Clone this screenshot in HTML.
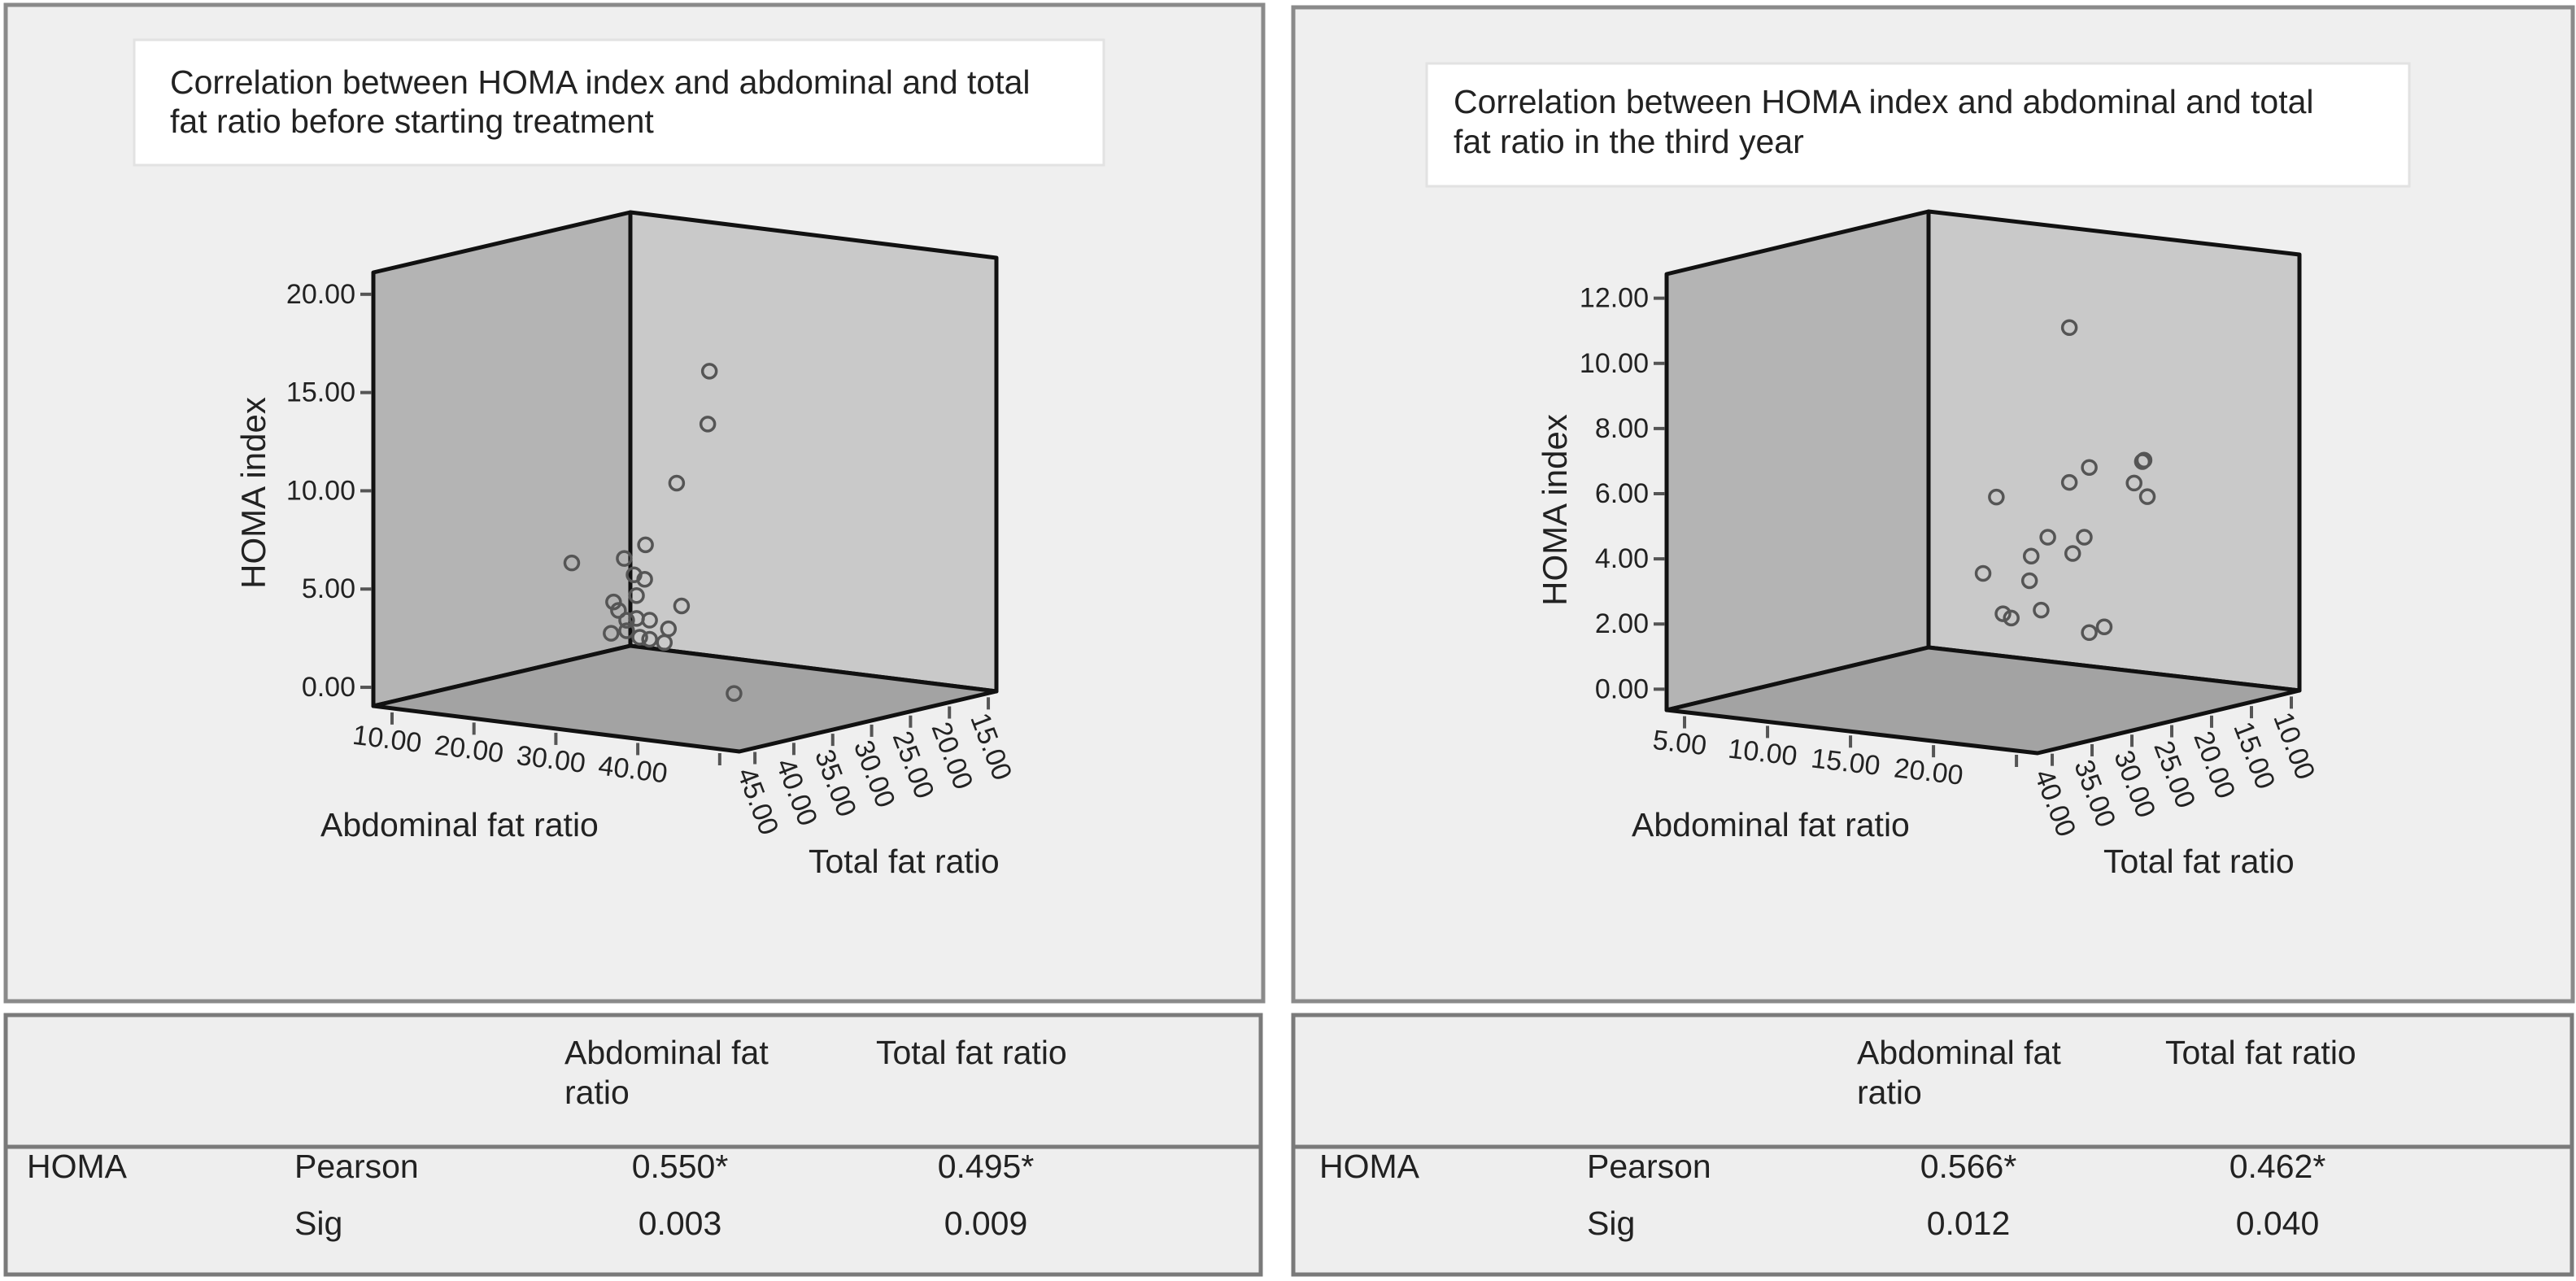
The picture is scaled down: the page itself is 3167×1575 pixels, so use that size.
<!DOCTYPE html>
<html><head><meta charset="utf-8"><style>
html,body{margin:0;padding:0;background:#fff;}
svg{display:block;font-family:"Liberation Sans",Arial,sans-serif;}
</style></head><body>
<svg id="root" width="3167" height="1575" viewBox="0 0 3167 1575" xmlns="http://www.w3.org/2000/svg">
<rect x="0" y="0" width="3167" height="1575" fill="#ffffff"/>
<!-- left panel -->
<rect x="7" y="6" width="1546" height="1225" fill="#efefef" stroke="#8a8a8a" stroke-width="5"/>
<rect x="1590" y="9" width="1573" height="1222" fill="#efefef" stroke="#8a8a8a" stroke-width="5"/>
<rect x="165" y="49" width="1192" height="154" fill="#ffffff" stroke="#e2e2e2" stroke-width="3"/>
<text x="209" y="115" font-size="41" fill="#222">Correlation between HOMA index and abdominal and total</text>
<text x="209" y="163" font-size="41" fill="#222">fat ratio before starting treatment</text>
<rect x="1754" y="78" width="1208" height="151" fill="#ffffff" stroke="#e2e2e2" stroke-width="3"/>
<text x="1787" y="139" font-size="41" fill="#222">Correlation between HOMA index and abdominal and total</text>
<text x="1787" y="188" font-size="41" fill="#222">fat ratio in the third year</text>
<g id="leftChart"></g>
<g id="rightChart"></g>
<text x="394" y="1028" font-size="41" fill="#222">Abdominal fat ratio</text>
<text x="994" y="1073" font-size="41" fill="#222">Total fat ratio</text>
<text transform="translate(326,606) rotate(-90)" text-anchor="middle" font-size="42" fill="#222">HOMA index</text>
<text x="2006" y="1028" font-size="41" fill="#222">Abdominal fat ratio</text>
<text x="2586" y="1073" font-size="41" fill="#222">Total fat ratio</text>
<text transform="translate(1926,627) rotate(-90)" text-anchor="middle" font-size="42" fill="#222">HOMA index</text>
<!-- tables -->
<g>
<rect x="7" y="1248" width="1543" height="319" fill="#eeeeee" stroke="#7a7a7a" stroke-width="5"/>
<line x1="7" y1="1410" x2="1550" y2="1410" stroke="#7a7a7a" stroke-width="5"/>
<text x="694" y="1308" font-size="41" fill="#222">Abdominal fat</text>
<text x="694" y="1357" font-size="41" fill="#222">ratio</text>
<text x="1077" y="1308" font-size="41" fill="#222">Total fat ratio</text>
<text x="33" y="1448" font-size="41" fill="#222">HOMA</text>
<text x="362" y="1448" font-size="41" fill="#222">Pearson</text>
<text x="836" y="1448" font-size="41" fill="#222" text-anchor="middle">0.550*</text>
<text x="1212" y="1448" font-size="41" fill="#222" text-anchor="middle">0.495*</text>
<text x="362" y="1518" font-size="41" fill="#222">Sig</text>
<text x="836" y="1518" font-size="41" fill="#222" text-anchor="middle">0.003</text>
<text x="1212" y="1518" font-size="41" fill="#222" text-anchor="middle">0.009</text>
</g>
<g>
<rect x="1590" y="1248" width="1572" height="319" fill="#eeeeee" stroke="#7a7a7a" stroke-width="5"/>
<line x1="1590" y1="1410" x2="3162" y2="1410" stroke="#7a7a7a" stroke-width="5"/>
<text x="2283" y="1308" font-size="41" fill="#222">Abdominal fat</text>
<text x="2283" y="1357" font-size="41" fill="#222">ratio</text>
<text x="2662" y="1308" font-size="41" fill="#222">Total fat ratio</text>
<text x="1622" y="1448" font-size="41" fill="#222">HOMA</text>
<text x="1951" y="1448" font-size="41" fill="#222">Pearson</text>
<text x="2420" y="1448" font-size="41" fill="#222" text-anchor="middle">0.566*</text>
<text x="2800" y="1448" font-size="41" fill="#222" text-anchor="middle">0.462*</text>
<text x="1951" y="1518" font-size="41" fill="#222">Sig</text>
<text x="2420" y="1518" font-size="41" fill="#222" text-anchor="middle">0.012</text>
<text x="2800" y="1518" font-size="41" fill="#222" text-anchor="middle">0.040</text>
</g>
</svg>
<script>
// ---- data: left chart (before treatment) ----
const leftAbd = [32.6,32.4,28.6,24.8,15.8,22.2,23.4,24.7,23.7,20.9,29.2,21.5,23.7,25.3,22.5,27.6,20.6,22.5,24.1,25.3,27.1,47.0];
const leftTotal = [30,30,30,30,30,30,30,30,30,30,30,30,30,30,30,30,30,30,30,30,30,42];
const leftHoma = [15.8,13.1,9.9,6.56,5.17,5.73,4.96,4.80,3.92,3.45,3.68,3.05,2.76,2.75,2.6,2.43,1.84,2.07,1.82,1.78,1.71,1.26];
const leftHomaTicks = [0,5,10,15,20];
const leftHomaLabels = ["0.00","5.00","10.00","15.00","20.00"];
const leftAbdTicks = [10,20,30,40,50];
const leftAbdLabels = ["10.00","20.00","30.00","40.00",""];
const leftTotalTicks = [15,20,25,30,35,40,45];
const leftTotalLabels = ["15.00","20.00","25.00","30.00","35.00","40.00","45.00"];
// ---- data: right chart (third year) ----
const rightAbd = [20.1,21.3,20.1,24.5,24.6,24.0,24.8,15.7,18.8,21.0,20.3,17.8,14.9,17.7,18.4,16.1,16.6,22.2,21.3];
const rightTotal = [25,25,25,25,25,25,25,25,25,25,25,25,25,25,25,25,25,25,25];
const rightHoma = [11.07,6.85,6.32,7.22,7.27,6.53,6.16,5.61,4.56,4.69,4.15,3.92,3.22,3.16,2.30,2.05,1.95,2.01,1.78];
const rightHomaTicks = [0,2,4,6,8,10,12];
const rightHomaLabels = ["0.00","2.00","4.00","6.00","8.00","10.00","12.00"];
const rightAbdTicks = [5,10,15,20,25];
const rightAbdLabels = ["5.00","10.00","15.00","20.00",""];
const rightTotalTicks = [10,15,20,25,30,35,40];
const rightTotalLabels = ["10.00","15.00","20.00","25.00","30.00","35.00","40.00"];

const NS = "http://www.w3.org/2000/svg";
function mk(tag, attrs, parent){const e=document.createElementNS(NS,tag);for(const k in attrs)e.setAttribute(k,attrs[k]);parent.appendChild(e);return e;}

function drawChart(g, geo, abd, tot, homa, hT, hL, aT, aL, tT, tL, prefix){
  const L=geo.L,F=geo.F,B=geo.B,H=geo.H;
  function proj(a,t,h){
    const ua=(a-geo.a0)/(geo.a1-geo.a0), ut=(geo.t0-t)/(geo.t0-geo.t1), vh=(h-geo.h0)/(geo.h1-geo.h0);
    return [L[0]+ua*(F[0]-L[0])+ut*(B[0]-L[0]), L[1]+ua*(F[1]-L[1])+ut*(B[1]-L[1])-vh*H];
  }
  const R=[F[0]+B[0]-L[0],F[1]+B[1]-L[1]];
  const pts=a=>a.map(p=>p[0]+","+p[1]).join(" ");
  // walls
  const lw=mk("polygon",{points:pts([L,[L[0],L[1]-H],[B[0],B[1]-H],B]),fill:"#b4b4b4",stroke:"#111","stroke-width":5,"stroke-linejoin":"round"},g);
  
  
  const bw=mk("polygon",{points:pts([B,[B[0],B[1]-H],[R[0],R[1]-H],R]),fill:"#c9c9c9",stroke:"#111","stroke-width":5,"stroke-linejoin":"round"},g);
  
  
  const fl=mk("polygon",{points:pts([L,F,R,B]),fill:"#a3a3a3",stroke:"#111","stroke-width":5,"stroke-linejoin":"round"},g);
  
  
  // y ticks
  hT.forEach((v,i)=>{
    const p=proj(geo.a0,geo.t0,v);
    const tk=mk("line",{x1:p[0]-16,y1:p[1],x2:p[0]-2,y2:p[1],stroke:"#555","stroke-width":4},g);
    
    
    const tx=mk("text",{x:p[0]-22,y:p[1],"text-anchor":"end","dominant-baseline":"central","font-size":34,fill:"#222"},g);
    tx.textContent=hL[i];
    
    
  });
  const angA=Math.atan2(F[1]-L[1],F[0]-L[0])*180/Math.PI;
  aT.forEach((v,i)=>{
    const p=proj(v,geo.t0,geo.h0);
    const tk=mk("line",{x1:p[0],y1:p[1]+5,x2:p[0],y2:p[1]+20,stroke:"#555","stroke-width":4},g);
    
    
    if(aL[i]){
      const tx=mk("text",{transform:`translate(${p[0]-6},${p[1]+38}) rotate(${angA})`,"text-anchor":"middle","dominant-baseline":"central","font-size":34,fill:"#222"},g);
      tx.textContent=aL[i];
      
      
    }
  });
  tT.forEach((v,i)=>{
    const p=proj(geo.a1,v,geo.h0);
    const tk=mk("line",{x1:p[0],y1:p[1]+5,x2:p[0],y2:p[1]+20,stroke:"#555","stroke-width":4},g);
    
    
    const tx=mk("text",{transform:`translate(${p[0]-12},${p[1]+26}) rotate(69)`,"text-anchor":"start","dominant-baseline":"central","font-size":34,fill:"#222"},g);
    tx.textContent=tL[i];
    
    
  });
  // points
  abd.forEach((a,i)=>{
    const p=proj(a,tot[i],homa[i]);
    const c=mk("circle",{cx:p[0],cy:p[1],r:8.5,fill:"none",stroke:"#555","stroke-width":3.5},g);
    
    
  });
}

drawChart(document.getElementById("leftChart"),
  {L:[459,868],F:[909,924],B:[775,794],H:533,a0:7.72,a1:52.4,t0:47.0,t1:13.96,h0:-0.95,h1:21.11},
  leftAbd,leftTotal,leftHoma,leftHomaTicks,leftHomaLabels,leftAbdTicks,leftAbdLabels,leftTotalTicks,leftTotalLabels,"left");
drawChart(document.getElementById("rightChart"),
  {L:[2049,873],F:[2505,926],B:[2371,796],H:536,a0:3.92,a1:26.27,t0:41.84,t1:8.98,h0:-0.64,h1:12.74},
  rightAbd,rightTotal,rightHoma,rightHomaTicks,rightHomaLabels,rightAbdTicks,rightAbdLabels,rightTotalTicks,rightTotalLabels,"right");
</script>
</body></html>
